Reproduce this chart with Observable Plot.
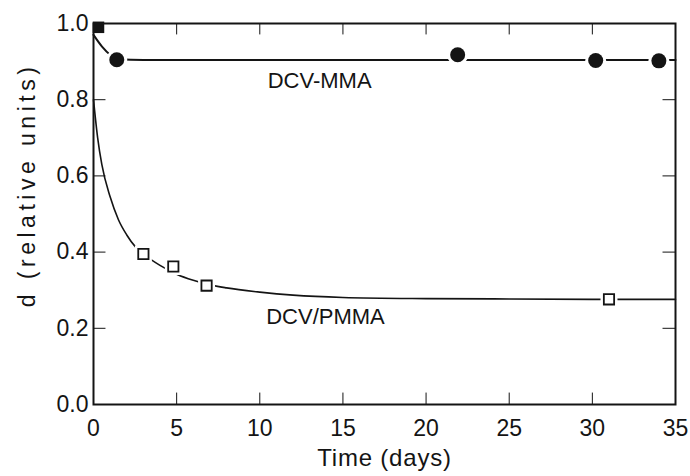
<!DOCTYPE html>
<html>
<head>
<meta charset="utf-8">
<script src="https://cdn.jsdelivr.net/npm/d3@7"></script>
<script src="https://cdn.jsdelivr.net/npm/@observablehq/plot@0.6"></script>
<style>
  html, body { margin: 0; padding: 0; background: #fff; }
  #chart svg { display: block; }
</style>
</head>
<body>
<div id="chart"></div>
<script>
// DCV-MMA (filled circles) measurements
const mmaDays = [1.4, 21.9, 30.2, 34.0];
const mmaValues = [0.905, 0.918, 0.903, 0.902];
// initial filled square
const startDays = [0.3];
const startValues = [0.99];
// DCV-MMA fitted line
const mmaFitDays = [0, 0.5, 1.0, 1.5, 3, 10, 20, 35];
const mmaFitValues = [0.97, 0.94, 0.918, 0.906, 0.904, 0.904, 0.904, 0.904];

// DCV/PMMA (open squares) measurements
const pmmaDays = [3.0, 4.8, 6.8, 31.0];
const pmmaValues = [0.395, 0.362, 0.312, 0.276];
// DCV/PMMA fitted curve
const pmmaFitDays = [0, 0.25, 0.5, 1, 1.5, 2, 2.5, 3, 4, 5, 6, 7, 8, 10, 12, 15, 20, 25, 30, 35];
const pmmaFitValues = [0.80, 0.70, 0.63, 0.545, 0.485, 0.445, 0.415, 0.395, 0.365, 0.342, 0.326, 0.314, 0.306, 0.295, 0.287, 0.281, 0.278, 0.277, 0.276, 0.276];

// Series labels
const seriesLabels = ["DCV-MMA", "DCV/PMMA"];
const labelDays = [13.6, 13.95];
const labelValues = [0.848, 0.231];

// Ticks
const xTicks = [0, 5, 10, 15, 20, 25, 30, 35];
const yTicks = [0, 0.2, 0.4, 0.6, 0.8, 1.0];

const mmaPts = mmaDays.map((d, i) => ({d, v: mmaValues[i]}));
const startPts = startDays.map((d, i) => ({d, v: startValues[i]}));
const mmaFit = mmaFitDays.map((d, i) => ({d, v: mmaFitValues[i]}));
const pmmaPts = pmmaDays.map((d, i) => ({d, v: pmmaValues[i]}));
const pmmaFit = pmmaFitDays.map((d, i) => ({d, v: pmmaFitValues[i]}));
const labels = seriesLabels.map((t, i) => ({t, d: labelDays[i], v: labelValues[i]}));
const innerX = xTicks.slice(1, -1);
const innerY = yTicks.slice(1, -1);

const ink = "#141414";
const font = "Liberation Sans, Arial, sans-serif";

const chart = Plot.plot({
  width: 690,
  height: 476,
  marginLeft: 93,
  marginRight: 15,
  marginTop: 23,
  marginBottom: 72,
  style: {fontFamily: font, background: "#fff", color: ink},
  x: {domain: [0, 35]},
  y: {domain: [0, 1]},
  marks: [
    // inward ticks
    Plot.ruleX(innerX, {x: d => d, y1: 0, y2: 0.03, stroke: ink, strokeWidth: 1}),
    Plot.ruleX(innerX, {x: d => d, y1: 1, y2: 0.97, stroke: ink, strokeWidth: 1}),
    Plot.ruleY(innerY, {y: d => d, x1: 0, x2: 0.75, stroke: ink, strokeWidth: 1}),
    Plot.ruleY(innerY, {y: d => d, x1: 35, x2: 34.25, stroke: ink, strokeWidth: 1}),
    // fitted lines
    Plot.line(mmaFit, {x: "d", y: "v", stroke: ink, strokeWidth: 2, curve: "monotone-x"}),
    Plot.line(pmmaFit, {x: "d", y: "v", stroke: ink, strokeWidth: 1.6, curve: "monotone-x"}),
    // white halos creating gaps in lines
    Plot.dot(mmaPts, {x: "d", y: "v", r: 7.5, fill: "white", stroke: "white", strokeWidth: 6}),
    Plot.dot(pmmaPts, {x: "d", y: "v", r: 6.2, symbol: "square", fill: "white", stroke: "white", strokeWidth: 6}),
    // frame
    Plot.frame({stroke: ink, strokeWidth: 2}),
    // markers
    Plot.dot(mmaPts, {x: "d", y: "v", r: 7.5, fill: ink, stroke: "none"}),
    Plot.dot(startPts, {x: "d", y: "v", r: 6.5, symbol: "square", fill: ink, stroke: "none"}),
    Plot.dot(pmmaPts, {x: "d", y: "v", r: 5.8, symbol: "square", fill: "white", stroke: ink, strokeWidth: 1.8}),
    // series labels
    Plot.text(labels, {x: "d", y: "v", text: "t", fontSize: 22, fill: ink, fontFamily: font}),
    // axes
    Plot.axisX({ticks: xTicks, tickSize: 0, tickPadding: 15, fontSize: 23, label: null, tickFormat: d3.format("d")}),
    Plot.axisY({ticks: yTicks, tickSize: 0, tickPadding: 5, fontSize: 23, label: null, tickFormat: d3.format(".1f")}),
    Plot.text(["Time (days)"], {frameAnchor: "bottom", textAnchor: "middle", dy: 61, fontSize: 24, fill: ink, fontFamily: font}),
    Plot.text(["d (relative units)"], {frameAnchor: "left", textAnchor: "middle", dx: -66, dy: -29, rotate: -90, fontSize: 23, fill: ink, fontFamily: font})
  ]
});
// typographic spacing of the axis titles
d3.select(chart).selectAll("text").each(function() {
  const t = this.textContent;
  if (t === "d (relative units)") this.setAttribute("letter-spacing", "4.5");
  if (t === "Time (days)") this.setAttribute("letter-spacing", "0.8");
});
document.getElementById("chart").appendChild(chart);
</script>
</body>
</html>
